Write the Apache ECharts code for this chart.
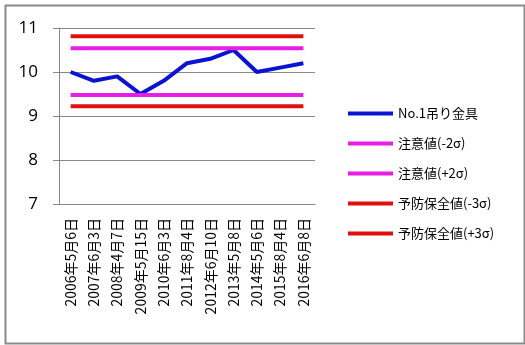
<!DOCTYPE html>
<html>
<head>
<meta charset="utf-8">
<script src="https://cdn.jsdelivr.net/npm/echarts@6/dist/echarts.min.js"></script>
<style>
html,body{margin:0;padding:0;background:#fff;}
#chart{width:525px;height:345px;}
</style>
</head>
<body>
<div id="chart"></div>
<script>
// Inspection dates
const categories = ['2006年5月6日','2007年6月3日','2008年4月7日','2009年5月15日','2010年6月3日','2011年8月4日','2012年6月10日','2013年5月8日','2014年5月6日','2015年8月4日','2016年6月8日'];
// Measured values
const measured = [10.0, 9.8, 9.9, 9.5, 9.8, 10.2, 10.3, 10.5, 10.0, 10.1, 10.2];
// Control limits
const cautionLow = 9.48;
const cautionHigh = 10.54;
const preventLow = 9.22;
const preventHigh = 10.81;
const yTicks = [7, 8, 9, 10, 11];

const seriesNames = ['No.1吊り金具', '注意値(-2σ)', '注意値(+2σ)', '予防保全値(-3σ)', '予防保全値(+3σ)'];
const flat = v => categories.map(() => v);

const font = '"Noto Sans CJK JP", "Noto Sans", sans-serif';
const mk = (name, data, color) => ({
  name, type: 'line', data, symbol: 'none', silent: true,
  lineStyle: { color, width: 4 }, itemStyle: { color }
});

const chart = echarts.init(document.getElementById('chart'));
chart.setOption({
  animation: false,
  backgroundColor: '#fff',
  graphic: [{
    type: 'rect', left: 3, top: 3, z: -1,
    shape: { width: 519, height: 338 },
    style: { fill: 'none', stroke: '#8a8a8a', lineWidth: 2 }
  }],
  grid: { left: 59, top: 28, width: 256, height: 176, containLabel: false },
  legend: {
    orient: 'vertical', left: 343, top: 102,
    icon: 'rect', itemWidth: 45, itemHeight: 4, itemGap: 17, itemTextGap: 4,
    data: seriesNames,
    textStyle: { fontSize: 13, color: '#000', fontFamily: font }
  },
  xAxis: {
    type: 'category', data: categories, boundaryGap: true,
    axisLine: { lineStyle: { color: '#888', width: 1 } },
    axisTick: { length: 5, lineStyle: { color: '#888' } },
    axisLabel: { rotate: 90, interval: 0, margin: 14, fontSize: 14, color: '#000', fontFamily: font }
  },
  yAxis: {
    type: 'value', min: yTicks[0], max: yTicks[yTicks.length - 1], interval: 1,
    axisLine: { show: true, lineStyle: { color: '#888' } },
    axisTick: { show: true, length: 6, lineStyle: { color: '#888' } },
    splitLine: { lineStyle: { color: '#888' } },
    axisLabel: { fontSize: 17, color: '#000', margin: 21, fontFamily: '"Open Sans", sans-serif' }
  },
  series: [
    mk(seriesNames[0], measured, '#0a14d0'),
    mk(seriesNames[1], flat(cautionLow), '#e61ee6'),
    mk(seriesNames[2], flat(cautionHigh), '#e61ee6'),
    mk(seriesNames[3], flat(preventLow), '#e01010'),
    mk(seriesNames[4], flat(preventHigh), '#e01010')
  ]
});
</script>
</body>
</html>
